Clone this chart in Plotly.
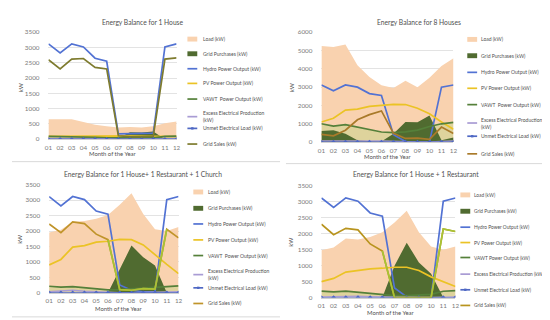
import plotly.graph_objects as go

W, H = 550, 320

months = ["01", "02", "03", "04", "05", "06", "07", "08", "09", "10", "11", "12"]

# Panel 1: 1 House
load1 = [650, 650, 650, 560, 470, 420, 380, 400, 380, 420, 520, 580]
purch1 = [0, 0, 0, 0, 0, 0, 40, 230, 220, 250, 0, 0]
hydro1 = [3120, 2820, 3120, 3020, 2650, 2550, 170, 180, 170, 200, 3020, 3120]
pv1 = [90, 95, 100, 105, 105, 105, 110, 110, 100, 95, 90, 85]
vawt1 = [90, 85, 90, 80, 60, 45, 40, 40, 40, 45, 90, 100]
excess1 = [20, 20, 30, 20, 15, 15, 0, 0, 0, 0, 15, 20]
unmet1 = [0] * 12
sales1 = [2600, 2300, 2620, 2640, 2350, 2300, 110, 80, 80, 100, 2620, 2660]

# Panel 2: 8 Houses
load2 = [5250, 5200, 5330, 4200, 3550, 3100, 2950, 3350, 3000, 3520, 4150, 4580]
purch2 = [600, 650, 450, 100, 50, 30, 450, 1100, 1080, 1450, 100, 250]
hydro2 = [3120, 2800, 3120, 3000, 2650, 2550, 400, 30, 0, 0, 3000, 3120]
pv2 = [1100, 1300, 1750, 1800, 1950, 2000, 2060, 2050, 1850, 1550, 1100, 700]
vawt2 = [1000, 870, 950, 820, 650, 550, 520, 560, 650, 850, 1000, 1080]
excess2 = [60, 50, 50, 60, 60, 60, 30, 0, 0, 0, 40, 60]
unmet2 = [0] * 12
sales2 = [420, 340, 650, 1220, 1500, 1700, 480, 200, 220, 150, 820, 470]

# Panel 3: 1 House + 1 Restaurant + 1 Church
load3 = [1950, 2040, 2300, 2330, 2400, 2520, 2850, 3230, 2550, 2060, 2000, 2130]
purch3 = [0, 0, 0, 0, 0, 0, 760, 1530, 1150, 880, 0, 0]
hydro3 = [3120, 2820, 3120, 3020, 2650, 2550, 250, 80, 30, 30, 3020, 3120]
pv3 = [900, 1080, 1480, 1530, 1640, 1670, 1730, 1720, 1550, 1220, 920, 620]
vawt3 = [210, 180, 200, 170, 120, 90, 100, 120, 150, 180, 200, 220]
excess3 = [30, 50, 80, 50, 30, 30, 0, 0, 0, 0, 20, 30]
unmet3 = [0] * 12
sales3 = [2230, 1950, 2300, 2240, 1900, 1720, 100, 80, 130, 120, 2060, 1780]

# Panel 4: 1 House + 1 Restaurant
load4 = [1480, 1570, 1850, 1820, 1900, 2050, 2350, 2720, 2050, 1600, 1500, 1600]
purch4 = [0, 0, 0, 0, 0, 0, 1000, 1720, 1100, 750, 0, 0]
hydro4 = [3120, 2820, 3120, 3020, 2650, 2550, 300, 20, 0, 0, 3020, 3120]
pv4 = [500, 600, 800, 850, 900, 920, 950, 950, 850, 650, 500, 350]
vawt4 = [200, 180, 200, 170, 120, 90, 60, 60, 80, 100, 200, 220]
excess4 = [20, 30, 50, 40, 30, 20, 0, 0, 0, 0, 20, 20]
unmet4 = [0] * 12
sales4 = [2300, 1970, 2170, 2120, 1680, 1460, 0, 0, 0, 0, 2150, 2070]

titles = ["Energy Balance for 1 House", "Energy Balance for 8 Houses",
          "Energy Balance for 1 House+ 1 Restaurant + 1 Church",
          "Energy Balance for 1 House + 1 Restaurant"]
x_title = "Month of the Year"
y_title = "kW"
legend_names_a = ["Load (kW)", "Grid Purchases (kW)", "Hydro Power Output (kW)",
                  "PV Power Output (kW)", "VAWT  Power Output (kW)",
                  "Excess Electrical Production<br>(kW)", "Unmet Electrical Load (kW)",
                  "Grid Sales (kW)"]
legend_names_b = ["Load (kW)", "Grid Purchases (kW)", "Hydro Power Output (kW)",
                  "PV Power Output (kW)", "VAWT Power Output (kW)",
                  "Excess Electrical Production (kW)", "Unmet Electrical Load (kW)",
                  "Grid Sales (kW)"]

PEACH = "#F9D2AF"
OLIVE_TINT = "rgba(200,212,140,0.55)"
DARKGREEN = "#506B30"
HYDRO = "#5272D3"
PV = "#EBC325"
VAWT = "#55803A"
EXCESS = "#A99CD4"
UNMET = "#4F68C4"
LIME = "#A8C435"
TXT = "#505050"
FONT = "Lato"

panels = [
    dict(data=(load1, purch1, hydro1, pv1, vawt1, excess1, unmet1, sales1),
         ymax=3500, dtick=500, x0=37, x1=167, yt=20.7, yb=130,
         title_xy=(133, 10), xt_xy=(102, 145), kw_xy=(8, 77),
         leg_x=178, leg_dx=14, leg_size=5.0,
         leg_y=[27.7, 42.7, 58, 73, 89, 107, 119, 135], names=legend_names_a,
         sales_color="#7E7B2E", lime=None, border=(0, 272, 153)),
    dict(data=(load2, purch2, hydro2, pv2, vawt2, excess2, unmet2, sales2),
         ymax=6000, dtick=1000, x0=314, x1=448, yt=20.7, yb=133,
         title_xy=(413, 10), xt_xy=(381, 148), kw_xy=(283, 77),
         leg_x=462, leg_dx=12, leg_size=5.0,
         leg_y=[28, 44.7, 61.7, 78, 94.7, 113.5, 127, 145], names=legend_names_a,
         sales_color="#A97A2A", lime=None, border=(278, 550, 155)),
    dict(data=(load3, purch3, hydro3, pv3, vawt3, excess3, unmet3, sales3),
         ymax=3500, dtick=500, x0=37.7, x1=169, yt=176.7, yb=287,
         title_xy=(133, 166), xt_xy=(108, 302.7), kw_xy=(8, 232),
         leg_x=184, leg_dx=13, leg_size=5.0,
         leg_y=[184, 200.7, 216.7, 233, 249, 268.5, 282, 298], names=legend_names_a,
         sales_color="#C0942A", lime=(5, 11), border=(0, 272, 311.7)),
    dict(data=(load4, purch4, hydro4, pv4, vawt4, excess4, unmet4, sales4),
         ymax=3500, dtick=500, x0=314, x1=450, yt=177.7, yb=292,
         title_xy=(410, 166), xt_xy=(384, 307), kw_xy=(283, 235),
         leg_x=455, leg_dx=11.5, leg_size=4.8,
         leg_y=[187, 203.7, 220, 235.7, 251, 268, 284, 300], names=legend_names_b,
         sales_color="#B8941E", lime=(5, 12), border=(278, 548, 316)),
]


def px(x):
    return x / W


def py(y):
    return 1 - y / H


fig = go.Figure()
annotations = []
shapes = []
layout_axes = {}

for i, p in enumerate(panels):
    n = "" if i == 0 else str(i + 1)
    xa, ya = "x" + n, "y" + n
    load, purch, hydro, pv, vawt, excess, unmet, sales = p["data"]
    common = dict(x=months, xaxis=xa, yaxis=ya, showlegend=False, hoverinfo="skip")
    fig.add_trace(go.Scatter(y=load, fill="tozeroy", mode="lines",
                             line=dict(width=0), fillcolor=PEACH, **common))
    fig.add_trace(go.Scatter(y=vawt, fill="tozeroy", mode="none",
                             fillcolor=OLIVE_TINT, **common))
    fig.add_trace(go.Scatter(y=purch, fill="tozeroy", mode="lines",
                             line=dict(width=0), fillcolor=DARKGREEN, **common))
    fig.add_trace(go.Scatter(y=hydro, mode="lines", line=dict(color=HYDRO, width=1.7), **common))
    fig.add_trace(go.Scatter(y=pv, mode="lines", line=dict(color=PV, width=1.7), **common))
    fig.add_trace(go.Scatter(y=vawt, mode="lines", line=dict(color=VAWT, width=1.7), **common))
    fig.add_trace(go.Scatter(y=excess, mode="lines", line=dict(color=EXCESS, width=1.5), **common))
    fig.add_trace(go.Scatter(y=unmet, mode="lines+markers", line=dict(color=UNMET, width=1.2),
                             marker=dict(size=3.5, symbol="diamond", color=UNMET), **common))
    fig.add_trace(go.Scatter(y=sales, mode="lines", line=dict(color=p["sales_color"], width=1.7), **common))
    if p["lime"]:
        a, b = p["lime"]
        fig.add_trace(go.Scatter(x=months[a:b], y=sales[a:b], xaxis=xa, yaxis=ya, mode="lines",
                                 line=dict(color=LIME, width=1.7), showlegend=False, hoverinfo="skip"))

    layout_axes["xaxis" + n] = dict(
        domain=[px(p["x0"]), px(p["x1"])], anchor=ya, type="category",
        range=[0, 11], showgrid=False, zeroline=False, showline=True,
        linecolor="#D0D0D0", linewidth=1, ticks="", ticklabelstandoff=2,
        tickfont=dict(size=6.3, color="#7A7A7A", family=FONT), fixedrange=True)
    layout_axes["yaxis" + n] = dict(
        domain=[py(p["yb"]), py(p["yt"])], anchor=xa, range=[0, p["ymax"]],
        dtick=p["dtick"], showgrid=True, gridcolor="#E3E3E3", gridwidth=0.8,
        zeroline=False, showline=False, ticks="", ticklabelstandoff=8,
        tickfont=dict(size=6.3, color="#7A7A7A", family=FONT), fixedrange=True)

    tx, ty = p["title_xy"]
    annotations.append(dict(text=titles[i], x=px(tx), y=py(ty), xref="paper", yref="paper",
                            showarrow=False, xanchor="center", yanchor="middle",
                            font=dict(size=6.7, color=TXT, family=FONT)))
    ax_, ay_ = p["xt_xy"]
    annotations.append(dict(text=x_title, x=px(ax_), y=py(ay_), xref="paper", yref="paper",
                            showarrow=False, xanchor="center", yanchor="middle",
                            font=dict(size=5.9, color=TXT, family=FONT)))
    kx, ky = p["kw_xy"]
    annotations.append(dict(text=y_title, x=px(kx), y=py(ky), xref="paper", yref="paper",
                            showarrow=False, xanchor="center", yanchor="middle", textangle=-90,
                            font=dict(size=5.9, color=TXT, family=FONT)))

    # legend entries
    lx = p["leg_x"]
    kinds = [("rect", PEACH), ("rect", DARKGREEN), ("line", HYDRO), ("line", PV),
             ("line", VAWT), ("line", EXCESS), ("marker", UNMET), ("line", p["sales_color"])]
    for (kind, col), ly, name in zip(kinds, p["leg_y"], p["names"]):
        if kind == "rect":
            shapes.append(dict(type="rect", xref="paper", yref="paper",
                               x0=px(lx), x1=px(lx + 10), y0=py(ly + 2.5), y1=py(ly - 2.5),
                               fillcolor=col, line=dict(width=0)))
        else:
            shapes.append(dict(type="line", xref="paper", yref="paper",
                               x0=px(lx), x1=px(lx + 10), y0=py(ly), y1=py(ly),
                               line=dict(color=col, width=1.7)))
            if kind == "marker":
                shapes.append(dict(type="rect", xref="paper", yref="paper",
                                   x0=px(lx + 3.8), x1=px(lx + 6.2), y0=py(ly + 1.2), y1=py(ly - 1.2),
                                   fillcolor=col, line=dict(width=0)))
        annotations.append(dict(text=name, x=px(lx + p["leg_dx"]), y=py(ly), xref="paper", yref="paper",
                                showarrow=False, xanchor="left", yanchor="middle", align="left",
                                font=dict(size=p["leg_size"], color=TXT, family=FONT)))

    bx0, bx1, by = p["border"]
    shapes.append(dict(type="line", xref="paper", yref="paper", x0=px(bx0), x1=px(bx1),
                       y0=py(by), y1=py(by), line=dict(color="#D9D9D9", width=1)))

fig.update_layout(
    width=W, height=H, margin=dict(l=0, r=0, t=0, b=0),
    paper_bgcolor="white", plot_bgcolor="rgba(0,0,0,0)",
    showlegend=False, annotations=annotations, shapes=shapes,
    font=dict(family=FONT, color=TXT), **layout_axes)

fig.write_html("out.html")
